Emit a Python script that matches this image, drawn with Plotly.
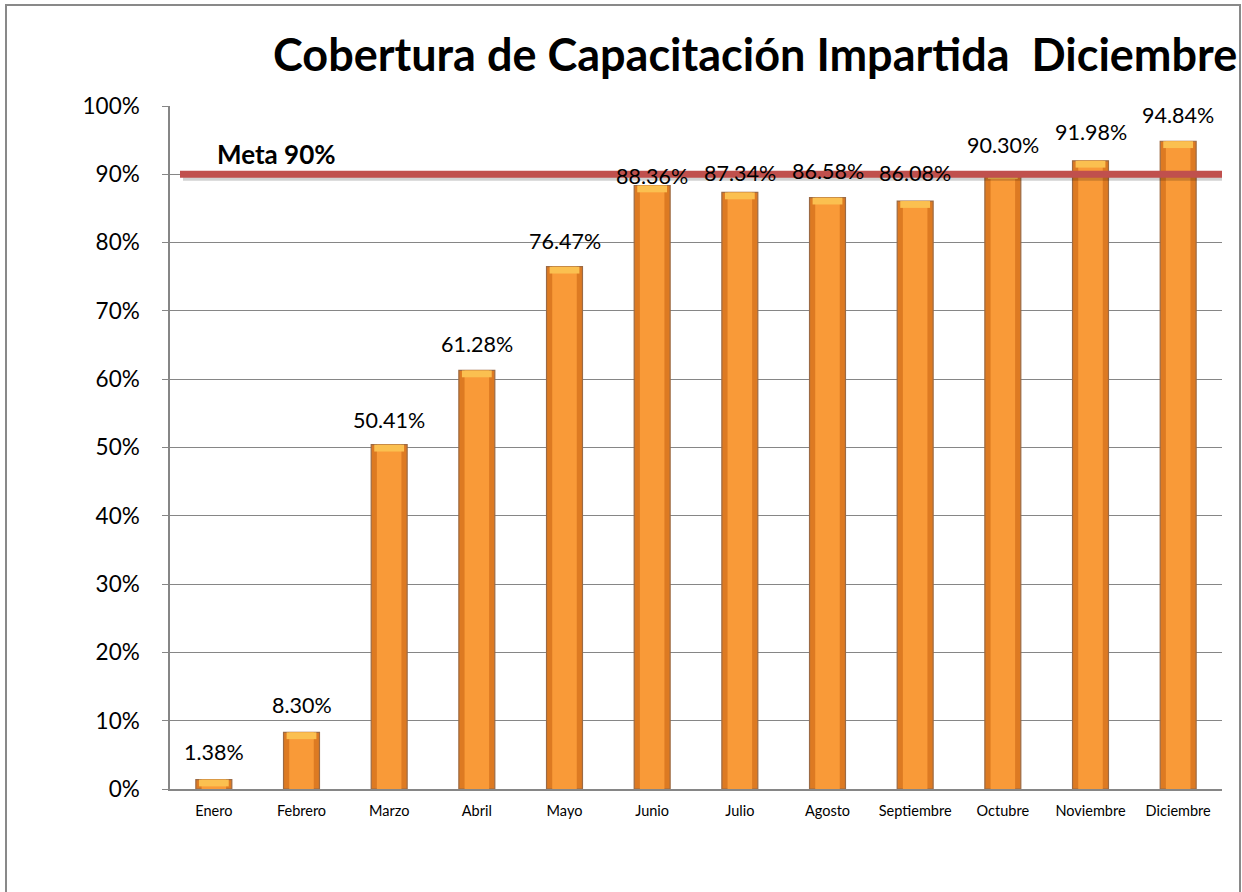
import plotly.graph_objects as go

months = ["Enero", "Febrero", "Marzo", "Abril", "Mayo", "Junio", "Julio",
          "Agosto", "Septiembre", "Octubre", "Noviembre", "Diciembre"]
coverage = [1.38, 8.30, 50.41, 61.28, 76.47, 88.36, 87.34, 86.58, 86.08, 90.30, 91.98, 94.84]
goal = 90
goal_label = "Meta 90%"
title_text = "Cobertura de Capacitación Impartida  Diciembre"
y_ticks = [0, 10, 20, 30, 40, 50, 60, 70, 80, 90, 100]

# label placement (pixels above bar top, to the label's middle)
label_shift = [28, 27, 25, 26, 26, 10, 19, 27, 28, 27, 29, 26]

FONT = "Lato"
W, H = 1242, 892
L, R, T, B = 170, 20, 106, 103
pw, ph = W - L - R, H - T - B

def px_x(p):
    return (p - L) / pw

def px_y(p):
    return (H - B - p) / ph

fig = go.Figure()

# base bar (darker edge)
fig.add_trace(go.Bar(
    x=months, y=coverage, width=0.41,
    marker=dict(color="#DD7A22", line=dict(color="#9C6A44", width=1.2)),
    hoverinfo="skip", showlegend=False,
))
# lighter core for a rounded look
fig.add_trace(go.Bar(
    x=months, y=coverage, width=0.28,
    marker=dict(color="#F99A38", line=dict(width=0)),
    hoverinfo="skip", showlegend=False,
))
# highlight cap on top of each bar
cap = 1.0
fig.add_trace(go.Bar(
    x=months, y=[cap] * len(coverage), base=[v - cap for v in coverage], width=0.34,
    marker=dict(color="#FBC050", line=dict(width=0)),
    hoverinfo="skip", showlegend=False,
))

fig.update_layout(
    width=W, height=H,
    margin=dict(l=L, r=R, t=T, b=B),
    paper_bgcolor="white", plot_bgcolor="white",
    barmode="overlay", bargap=0.59,
    font=dict(family=FONT, color="#000000"),
    xaxis=dict(
        showgrid=False, showline=True, linecolor="#868686", linewidth=1.5,
        ticks="", tickfont=dict(family=FONT, size=14.5, color="#000000"),
        ticklabelstandoff=8,
    ),
    yaxis=dict(
        range=[0, 100], tickvals=y_ticks, ticktext=[f"{t}%" for t in y_ticks],
        showgrid=True, gridcolor="#868686", gridwidth=1,
        showline=True, linecolor="#868686", linewidth=1.5,
        ticks="outside", ticklen=6, tickcolor="#868686",
        tickfont=dict(family=FONT, size=22.5, color="#000000"),
        ticklabelstandoff=18, zeroline=False,
    ),
)

# data labels
for m, v, s in zip(months, coverage, label_shift):
    fig.add_annotation(
        x=m, y=v, xref="x", yref="y", text=f"{v:.2f}%",
        showarrow=False, yanchor="middle", xanchor="center", yshift=s,
        font=dict(family=FONT, size=21.5, color="#000000"),
    )

# title
fig.add_annotation(
    text=f"<b>{title_text}</b>", xref="paper", yref="paper",
    x=px_x(755), y=px_y(54), xanchor="center", yanchor="middle",
    showarrow=False, font=dict(family=FONT, size=45, color="#000000"),
)

# goal line shadow and line
fig.add_shape(type="line", xref="paper", yref="y",
              x0=px_x(183), x1=1.0, y0=goal - 0.45, y1=goal - 0.45,
              line=dict(color="rgba(0,0,0,0.18)", width=7), layer="above")
fig.add_shape(type="line", xref="paper", yref="y",
              x0=px_x(180), x1=1.0, y0=goal, y1=goal,
              line=dict(color="#C0504D", width=7), layer="above")
fig.add_annotation(
    text=f"<b>{goal_label}</b>", xref="paper", yref="y",
    x=px_x(215), y=goal + 0.3, xanchor="left", yanchor="bottom",
    showarrow=False, font=dict(family=FONT, size=26, color="#000000"),
)

# outer chart border
fig.add_shape(type="rect", xref="paper", yref="paper",
              x0=px_x(6), x1=px_x(1240), y0=px_y(900), y1=px_y(5),
              line=dict(color="#898989", width=2), layer="below")

fig.write_html("out.html", config={"displayModeBar": False},
               post_script="document.body.style.margin='0px';")
